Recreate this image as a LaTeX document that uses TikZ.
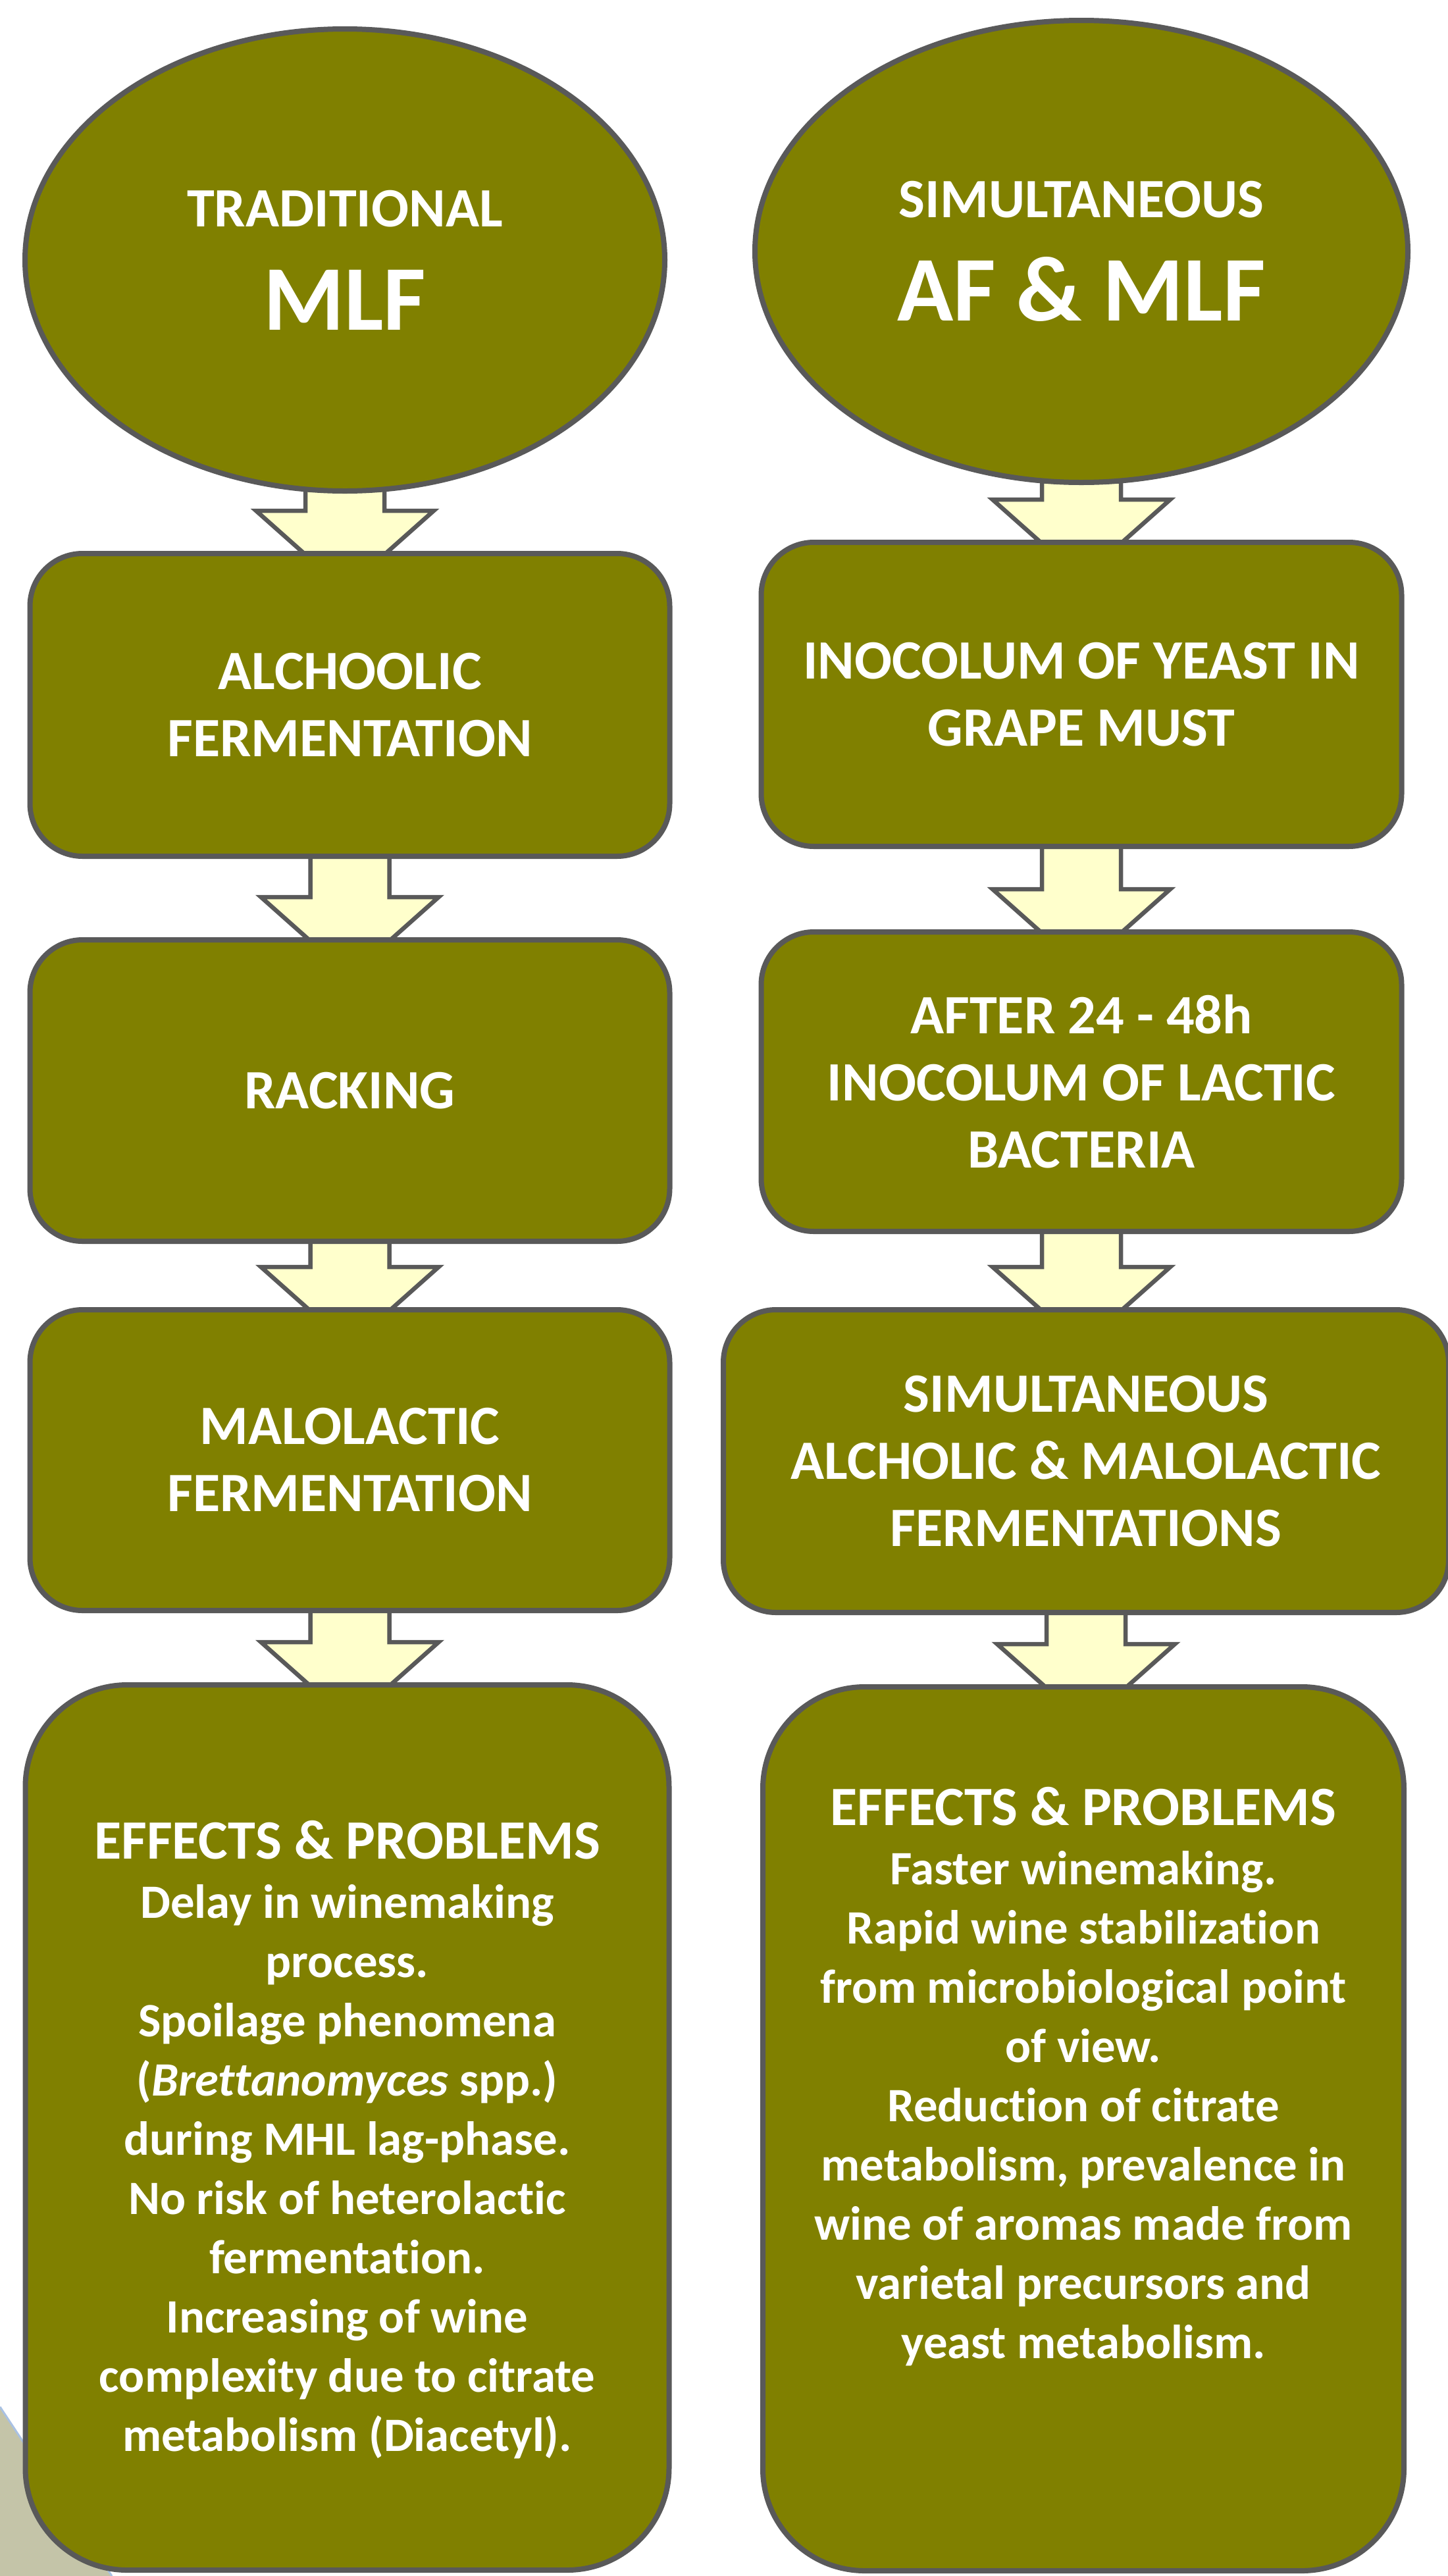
\documentclass[tikz,border=0pt]{standalone}
\usepackage{fontspec}
\setmainfont{Carlito}[Ligatures=NoCommon]
\usetikzlibrary{positioning,shapes.geometric,calc,backgrounds}

\definecolor{olivebox}{HTML}{808000}
\definecolor{edgegrey}{HTML}{595959}
\definecolor{arrowfill}{HTML}{FFFFCC}
\definecolor{patchbeige}{HTML}{C4C4A8}
\definecolor{patchline}{HTML}{A9C1E3}

\tikzset{
  startell/.style={ellipse, draw=edgegrey, fill=olivebox, line width=0.8mm,
    text=white, font=\bfseries\fontsize{24}{44.7}\selectfont, align=center,
    minimum width=97.2mm, minimum height=70.2mm, inner sep=0pt, outer sep=0pt},
  stepbox/.style={rectangle, rounded corners=8mm, draw=edgegrey, fill=olivebox,
    line width=0.8mm, text=white, font=\bfseries\fontsize{24}{29}\selectfont,
    align=center, minimum width=97.2mm, minimum height=46mm, inner sep=0pt, outer sep=0pt},
  effectbox/.style={stepbox, rounded corners=15.5mm, minimum width=97.8mm, minimum height=134.5mm},
  effecttext/.style={text=white, font=\bfseries\fontsize{20.7}{25.6}\selectfont,
    align=center, inner sep=0pt},
  flowarrow/.style={draw=edgegrey, fill=arrowfill, line width=0.65mm, line join=miter}
}

% block arrow from one node down to the next
\newcommand{\blockarrow}[2]{%
  \draw[flowarrow] let \p1=(#1.south), \p2=(#2.north) in
    (\x1-6mm,\y1+3mm) -- (\x1-6mm,\y2+6.5mm) -- (\x1-13.5mm,\y2+6.5mm)
    -- (\x1,\y2-5.5mm) -- (\x1+13.5mm,\y2+6.5mm) -- (\x1+6mm,\y2+6.5mm)
    -- (\x1+6mm,\y1+3mm) -- cycle;}

\begin{document}
\begin{tikzpicture}
  \useasboundingbox (0,0) rectangle (219.9mm,-391.4mm);

  % traditional MLF
  \node[startell] (tradEll) at (52.4mm,-39.5mm) {TRADITIONAL\\{\fontsize{40}{48}\selectfont MLF}};
  \node[stepbox, below=9.5mm of tradEll, xshift=0.75mm] (alcBox) {ALCHOOLIC\\FERMENTATION};
  \node[stepbox, below=12.7mm of alcBox, minimum height=45.8mm] (rackBox) {RACKING};
  \node[stepbox, below=10.4mm of rackBox, minimum height=45.7mm] (maloBox) {MALOLACTIC\\FERMENTATION};
  \node[effectbox, below=11.3mm of maloBox, xshift=-0.4mm] (effL) {};
  \node[effecttext, below=20.6mm of effL.north] (effLtext)
    {{\fontsize{24}{29}\selectfont EFFECTS \& PROBLEMS}\\
     Delay in winemaking\\ process.\\ Spoilage phenomena\\
     (\textit{Brettanomyces} spp.)\\ during MHL lag-phase.\\
     No risk of heterolactic\\ fermentation.\\ Increasing of wine\\
     complexity due to citrate\\ metabolism (Diacetyl).};

  % simultaneous AF & MLF
  \node[startell, minimum width=99.2mm] (simEll) at (164.3mm,-38.2mm) {SIMULTANEOUS\\{\fontsize{40}{48}\selectfont AF \& MLF}};
  \node[stepbox, below=9.1mm of simEll, minimum width=97.3mm, minimum height=46.2mm] (yeastBox) {INOCOLUM OF YEAST IN\\GRAPE MUST};
  \node[stepbox, below=13mm of yeastBox, minimum width=97.3mm, minimum height=45.5mm] (bactBox) {AFTER 24 - 48h\\INOCOLUM OF LACTIC\\BACTERIA};
  \node[stepbox, below=11.9mm of bactBox, xshift=0.7mm, minimum width=110.2mm] (simBox) {SIMULTANEOUS\\ALCHOLIC \& MALOLACTIC\\FERMENTATIONS};
  \node[effectbox, below=11.3mm of simBox, xshift=-0.4mm, minimum width=97.4mm, minimum height=134.3mm] (effR) {};
  \node[effecttext, below=15.2mm of effR.north] (effRtext)
    {{\fontsize{24}{29}\selectfont EFFECTS \& PROBLEMS}\\
     Faster winemaking.\\ Rapid wine stabilization\\ from microbiological point\\
     of view.\\ Reduction of citrate\\ metabolism, prevalence in\\
     wine of aromas made from\\ varietal precursors and\\ yeast metabolism.};

  \begin{pgfonlayer}{background}
    \fill[white] (0,0) rectangle (219.9mm,-391.4mm);
    \fill[patchbeige] (0,-365.7mm) -- (17mm,-391.4mm) -- (0,-391.4mm) -- cycle;
    \draw[patchline, line width=0.3mm] (0,-365.7mm) -- (17mm,-391.4mm);
    \blockarrow{tradEll}{alcBox}
    \blockarrow{alcBox}{rackBox}
    \blockarrow{rackBox}{maloBox}
    \blockarrow{maloBox}{effL}
    \blockarrow{simEll}{yeastBox}
    \blockarrow{yeastBox}{bactBox}
    \blockarrow{bactBox}{simBox}
    \blockarrow{simBox}{effR}
  \end{pgfonlayer}
\end{tikzpicture}
\end{document}
